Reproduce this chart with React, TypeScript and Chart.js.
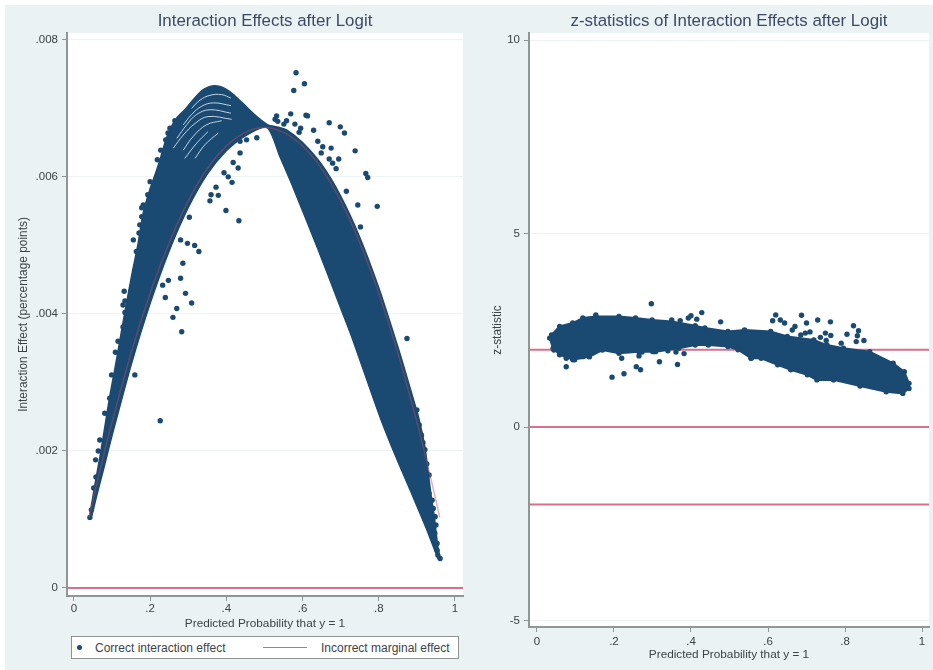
import React, { useEffect, useRef } from "react";
import { Chart, registerables } from "chart.js";

Chart.register(...registerables);

const NAVY = "#1a4a72";
const FONT = "'Liberation Sans', Arial, sans-serif";
const TEXT = "#3d4347";
const AXIS = "#8f9696";

// Left panel ---------------------------------------------------------------
const leftXTicks = [0, 0.2, 0.4, 0.6, 0.8, 1];
const leftXLabels = ["0", ".2", ".4", ".6", ".8", "1"];
const leftYTicks = [0, 0.002, 0.004, 0.006, 0.008];
const leftYLabels = ["0", ".002", ".004", ".006", ".008"];

const marginalP = [0.04, 0.06, 0.08, 0.1, 0.15, 0.2, 0.25, 0.3, 0.35, 0.4, 0.45, 0.5, 0.55, 0.6, 0.65, 0.7, 0.75, 0.8, 0.85, 0.9, 0.92, 0.94, 0.96];
const marginalY = [0.00103, 0.00152, 0.00198, 0.00242, 0.00343, 0.0043, 0.00504, 0.00565, 0.00612, 0.00645, 0.00665, 0.00672, 0.00665, 0.00645, 0.00612, 0.00565, 0.00504, 0.0043, 0.00343, 0.00242, 0.00198, 0.00152, 0.00103];

// outline of the solid mass of overlapping points
const massP = [0.042, 0.055, 0.068, 0.081, 0.094, 0.108, 0.121, 0.134, 0.152, 0.168, 0.181, 0.199, 0.213, 0.226, 0.239, 0.252, 0.27, 0.291, 0.312, 0.336, 0.352, 0.367, 0.383, 0.399, 0.417, 0.444, 0.48, 0.509,
  0.533, 0.56, 0.6, 0.65, 0.7, 0.75, 0.8, 0.85, 0.87, 0.89, 0.905, 0.921, 0.929, 0.937, 0.945, 0.955, 0.961,
  0.955, 0.924, 0.89, 0.843, 0.803, 0.732, 0.706, 0.638, 0.575, 0.541, 0.507,
  0.45, 0.4, 0.35, 0.3, 0.25, 0.2, 0.15, 0.1, 0.08, 0.06, 0.047];
const massY = [0.00107, 0.0015, 0.0019, 0.00234, 0.00279, 0.00321, 0.00362, 0.00403, 0.00457, 0.00501, 0.00545, 0.00581, 0.00603, 0.00625, 0.0065, 0.00669, 0.00686, 0.00698, 0.00712, 0.00726, 0.00731, 0.00733, 0.00732, 0.00728, 0.00721, 0.00707, 0.00688, 0.00676,
  0.00673, 0.00668, 0.0065, 0.00618, 0.00572, 0.00512, 0.00438, 0.00352, 0.00315, 0.00277, 0.00248, 0.00206, 0.00172, 0.00136, 0.00107, 0.0006, 0.00041,
  0.00044, 0.00088, 0.00133, 0.00194, 0.0025, 0.00362, 0.004, 0.00498, 0.00585, 0.00629, 0.00672,
  0.0066, 0.00638, 0.00604, 0.00555, 0.00492, 0.00415, 0.00325, 0.00222, 0.00178, 0.00135, 0.00105];

// thin pale gaps between the curved families of points
const gapA: [number, number][] = [[0.309, 0.007], [0.331, 0.00712], [0.357, 0.00719], [0.388, 0.0072], [0.412, 0.00715]];
const gapB: [number, number][] = [[0.287, 0.00676], [0.309, 0.00691], [0.335, 0.00703], [0.366, 0.00708], [0.412, 0.00704]];
const gapC: [number, number][] = [[0.27, 0.00656], [0.296, 0.00676], [0.322, 0.00691], [0.357, 0.00698], [0.412, 0.00693]];
const gapD: [number, number][] = [[0.261, 0.00642], [0.287, 0.00661], [0.318, 0.00678], [0.352, 0.00688], [0.414, 0.00684]];
const gapE: [number, number][] = [[0.287, 0.00639], [0.313, 0.00659], [0.348, 0.00676], [0.388, 0.00682]];
const gapF: [number, number][] = [[0.291, 0.00627], [0.322, 0.00649], [0.352, 0.00666]];
const gapG: [number, number][] = [[0.318, 0.00627], [0.344, 0.00647], [0.379, 0.00664]];
const leftGaps = [gapA, gapB, gapC, gapD, gapE, gapF, gapG];

const leftPointsP = [0.583, 0.605, 0.577, 0.532, 0.528, 0.535, 0.569, 0.609, 0.613, 0.558, 0.551, 0.58, 0.595, 0.591, 0.629, 0.67, 0.699, 0.71, 0.64, 0.653, 0.675, 0.649, 0.738, 0.67, 0.695, 0.679, 0.688, 0.766, 0.771, 0.715, 0.745, 0.796, 0.752, 0.874,
  0.436, 0.418, 0.431, 0.394, 0.405, 0.415, 0.373, 0.36, 0.379, 0.357, 0.399, 0.433, 0.48, 0.453, 0.436,
  0.28, 0.298, 0.317, 0.328, 0.286, 0.248, 0.28, 0.233, 0.24, 0.293, 0.309, 0.27, 0.26, 0.283, 0.303, 0.16, 0.2266,
  0.2, 0.217, 0.156, 0.132, 0.149, 0.134, 0.129, 0.143, 0.134, 0.182, 0.178, 0.173, 0.164, 0.16, 0.116, 0.109,
  0.265, 0.287, 0.252, 0.274, 0.247, 0.241, 0.259, 0.228, 0.236, 0.219, 0.226,
  0.099, 0.094, 0.081, 0.068, 0.064, 0.057, 0.058, 0.052, 0.046, 0.042,
  0.906, 0.912, 0.921, 0.926, 0.932, 0.932, 0.943, 0.95, 0.953, 0.961,
  0.129, 0.171, 0.178, 0.194, 0.207, 0.94, 0.948, 0.947, 0.953, 0.955, 0.9, 0.916];
const leftPointsY = [0.00752, 0.00736, 0.00726, 0.00689, 0.00684, 0.00681, 0.00692, 0.0069, 0.00689, 0.00682, 0.00677, 0.00677, 0.00671, 0.00665, 0.00668, 0.00679, 0.00673, 0.00664, 0.00652, 0.00644, 0.00642, 0.00635, 0.00638, 0.00626, 0.00626, 0.0062, 0.00612, 0.00605, 0.00599, 0.00579, 0.00559, 0.00557, 0.00527, 0.00364,
  0.00635, 0.00621, 0.00613, 0.00606, 0.006, 0.00592, 0.00585, 0.00574, 0.00573, 0.00565, 0.00551, 0.00536, 0.00657, 0.00654, 0.00652,
  0.00508, 0.00503, 0.005, 0.00491, 0.00474, 0.00449, 0.00452, 0.00442, 0.00424, 0.0043, 0.00416, 0.00408, 0.00395, 0.00374, 0.00541, 0.00311, 0.00244,
  0.00593, 0.00598, 0.00508, 0.00433, 0.00433, 0.00419, 0.00413, 0.00413, 0.00402, 0.00559, 0.00542, 0.0053, 0.00491, 0.00459, 0.0036, 0.00344,
  0.00682, 0.00685, 0.00671, 0.00673, 0.00664, 0.00654, 0.00657, 0.00639, 0.00631, 0.00625, 0.0061,
  0.00311, 0.00277, 0.00255, 0.00216, 0.002, 0.00187, 0.00162, 0.00146, 0.00114, 0.00103,
  0.00238, 0.00223, 0.00202, 0.00181, 0.00165, 0.00138, 0.00116, 0.00092, 0.00065, 0.00043,
  0.00381, 0.00518, 0.00555, 0.00574, 0.00581, 0.00128, 0.00104, 0.0008, 0.00055, 0.00048, 0.0026, 0.00212];

// Right panel --------------------------------------------------------------
const rightXTicks = [0, 0.2, 0.4, 0.6, 0.8, 1];
const rightXLabels = ["0", ".2", ".4", ".6", ".8", "1"];
const rightYTicks = [-5, 0, 5, 10];
const rightYLabels = ["-5", "0", "5", "10"];
const referenceLevels = [2, 0, -2];

const zMassP = [0.038, 0.059, 0.093, 0.119, 0.153, 0.213, 0.256, 0.299, 0.35, 0.411, 0.436, 0.496, 0.539, 0.607, 0.65, 0.719, 0.753, 0.796, 0.864, 0.925, 0.954, 0.966, 0.966, 0.95, 0.907, 0.839, 0.77, 0.727, 0.702, 0.659, 0.625, 0.582, 0.556, 0.522, 0.496, 0.445, 0.411, 0.368, 0.308, 0.265, 0.213, 0.17, 0.136, 0.093, 0.059, 0.042, 0.033];
const zMassY = [2.38, 2.6, 2.69, 2.82, 2.86, 2.86, 2.82, 2.77, 2.73, 2.62, 2.56, 2.47, 2.51, 2.47, 2.34, 2.25, 2.12, 2.04, 1.95, 1.65, 1.43, 1.13, 1.0, 0.87, 0.91, 1.06, 1.22, 1.22, 1.35, 1.48, 1.61, 1.78, 1.78, 2.0, 2.08, 2.12, 2.12, 2.04, 1.95, 1.95, 1.91, 1.99, 1.82, 1.74, 1.87, 2.04, 2.3];

const zPointsP = [0.297, 0.153, 0.428, 0.4, 0.393, 0.415, 0.35, 0.372, 0.477, 0.076, 0.076, 0.059, 0.044, 0.098, 0.119, 0.136, 0.22, 0.195, 0.226, 0.258, 0.269, 0.265, 0.273, 0.316, 0.301, 0.34, 0.361, 0.382, 0.318, 0.365,
  0.62, 0.612, 0.632, 0.643, 0.687, 0.7, 0.729, 0.762, 0.67, 0.663, 0.822, 0.835, 0.805, 0.832, 0.849, 0.829, 0.79, 0.709, 0.697, 0.685, 0.749, 0.763, 0.736, 0.751, 0.556];
const zPointsY = [3.19, 2.9, 2.96, 2.88, 2.82, 2.79, 2.77, 2.75, 2.72, 1.56, 1.78, 1.88, 1.99, 1.74, 1.82, 1.82, 1.78, 1.29, 1.38, 1.56, 1.48, 1.84, 1.94, 2.04, 1.95, 1.97, 1.94, 1.9, 1.69, 1.62,
  2.9, 2.75, 2.77, 2.69, 2.89, 2.69, 2.77, 2.72, 2.6, 2.51, 2.62, 2.49, 2.4, 2.36, 2.24, 2.21, 2.17, 2.46, 2.43, 2.38, 2.43, 2.37, 2.32, 2.24, 1.78];

const zip = (xs: number[], ys: number[]) => xs.map((x, i) => ({ x, y: ys[i] }));

const plotBackground = {
  id: "plotBackground",
  beforeDraw(chart: any) {
    const { ctx, chartArea: a } = chart;
    ctx.save();
    ctx.fillStyle = "#ffffff";
    ctx.fillRect(a.left, a.top, a.right - a.left, a.bottom - a.top);
    ctx.restore();
  },
};

function axes(o: any) {
  const tickFont = { family: FONT, size: 11.5 };
  return {
    x: {
      type: "linear",
      min: o.xMin,
      max: o.xMax,
      afterBuildTicks: (s: any) => { s.ticks = o.xTicks.map((value: number) => ({ value })); },
      afterFit: (s: any) => { s.height = o.xHeight; },
      ticks: { color: TEXT, font: tickFont, padding: o.xTickPad, maxRotation: 0, autoSkip: false, callback: (_: any, i: number) => o.xLabels[i] },
      grid: { drawOnChartArea: false, drawTicks: true, tickLength: 5, tickColor: AXIS, tickWidth: 1 },
      border: { color: AXIS, width: 2 },
      title: { display: true, text: "Predicted Probability that y = 1", color: TEXT, font: { family: FONT, size: 11.8 }, padding: 0 },
    },
    y: {
      type: "linear",
      min: o.yMin,
      max: o.yMax,
      afterBuildTicks: (s: any) => { s.ticks = o.yTicks.map((value: number) => ({ value })); },
      afterFit: (s: any) => { s.width = o.yWidth; },
      ticks: { color: TEXT, font: tickFont, padding: 4, autoSkip: false, callback: (_: any, i: number) => o.yLabels[i] },
      grid: { color: "#eef3f4", lineWidth: 1, tickLength: 5, tickColor: AXIS, tickWidth: 1 },
      border: { color: AXIS, width: 2 },
      title: { display: true, text: o.yTitle, color: TEXT, font: { family: FONT, size: 11.9 }, padding: { top: o.yTitlePad, bottom: 0 } },
    },
  };
}

function baseOptions(title: string, scales: any, padding: any) {
  return {
    responsive: false,
    animation: false as const,
    layout: { padding },
    scales,
    plugins: {
      legend: { display: false },
      tooltip: { enabled: false },
      title: {
        display: true,
        text: title,
        fullSize: false,
        color: "#3c4a66",
        font: { family: FONT, size: 16.9, weight: "normal" as const, lineHeight: 1.2 },
        padding: { top: 6, bottom: 1.7 },
      },
    },
  };
}

export default function App() {
  const leftRef = useRef<HTMLCanvasElement>(null);
  const rightRef = useRef<HTMLCanvasElement>(null);

  useEffect(() => {
    document.body.style.margin = "0";
    const xMinL = -0.018, xMaxL = 1.021;
    const left = new Chart(leftRef.current as HTMLCanvasElement, {
      type: "scatter",
      plugins: [plotBackground],
      data: {
        datasets: [
          { label: "Zero", data: [{ x: xMinL, y: 0 }, { x: xMaxL, y: 0 }], showLine: true, borderColor: "#d9708a", borderWidth: 2, pointRadius: 0, order: 1 },
          { label: "Incorrect marginal effect", data: zip(marginalP, marginalY), showLine: true, borderColor: "rgba(190,70,90,0.45)", borderWidth: 1.4, pointRadius: 0, tension: 0.3, order: 0 },
          ...leftGaps.map((g, i) => ({ label: "gap" + i, data: g.map(([x, y]) => ({ x, y })), showLine: true, borderColor: "rgba(222,234,242,0.85)", borderWidth: 1, pointRadius: 0, tension: 0.4, order: 2 })),
          { label: "Correct interaction effect", data: zip(leftPointsP, leftPointsY), backgroundColor: NAVY, borderColor: NAVY, pointRadius: 2.7, pointBorderWidth: 0, order: 3 },
          { label: "mass", data: zip(massP, massY), showLine: true, fill: "shape", backgroundColor: NAVY, borderColor: NAVY, borderWidth: 1.5, pointRadius: 0, tension: 0.25, order: 4 },
        ],
      } as any,
      options: baseOptions(
        "Interaction Effects after Logit",
        axes({ xMin: xMinL, xMax: xMaxL, yMin: -0.000117, yMax: 0.0081, xTicks: leftXTicks, xLabels: leftXLabels, yTicks: leftYTicks, yLabels: leftYLabels, xHeight: 35, yWidth: 67, xTickPad: 1, yTitle: "Interaction Effect (percentage points)", yTitlePad: 17 }),
        { left: 0, right: 17, top: 5, bottom: 39 },
      ) as any,
    });

    const xMinR = -0.0206, xMaxR = 1.018;
    const right = new Chart(rightRef.current as HTMLCanvasElement, {
      type: "scatter",
      plugins: [plotBackground],
      data: {
        datasets: [
          ...referenceLevels.map((lvl) => ({ label: "ref" + lvl, data: [{ x: xMinR, y: lvl }, { x: xMaxR, y: lvl }], showLine: true, borderColor: "#d9708a", borderWidth: 2, pointRadius: 0, order: 3 })),
          { label: "z", data: zip(zPointsP, zPointsY), backgroundColor: NAVY, borderColor: NAVY, pointRadius: 2.7, pointBorderWidth: 0, order: 1 },
          { label: "zmass", data: zip(zMassP, zMassY), showLine: true, fill: "shape", backgroundColor: NAVY, borderColor: NAVY, borderWidth: 2, pointRadius: 2.7, pointBorderWidth: 0, pointBackgroundColor: NAVY, tension: 0, order: 2 },
        ],
      } as any,
      options: baseOptions(
        "z-statistics of Interaction Effects after Logit",
        axes({ xMin: xMinR, xMax: xMaxR, yMin: -5.17, yMax: 10.19, xTicks: rightXTicks, xLabels: rightXLabels, yTicks: rightYTicks, yLabels: rightYLabels, xHeight: 35, yWidth: 49, xTickPad: 3, yTitle: "z-statistic", yTitlePad: 11 }),
        { left: 0, right: 0, top: 5, bottom: 8 },
      ) as any,
    });

    return () => {
      left.destroy();
      right.destroy();
    };
  }, []);

  const legendText: React.CSSProperties = { position: "absolute", top: 0, lineHeight: "22px", fontFamily: FONT, fontSize: 12, color: TEXT, whiteSpace: "nowrap" };

  return (
    <div style={{ position: "relative", width: 933, height: 670, background: "#ffffff", overflow: "hidden", filter: "blur(0.45px)" }}>
      <div style={{ position: "absolute", left: 5, top: 5, width: 928, height: 665, background: "#eaf2f3" }} />
      <canvas ref={leftRef} width={480} height={670} style={{ position: "absolute", left: 0, top: 0 }} />
      <canvas ref={rightRef} width={453} height={670} style={{ position: "absolute", left: 480, top: 0 }} />
      <div style={{ position: "absolute", left: 71, top: 636, width: 386, height: 21, background: "#fff", border: "1px solid #8d9394" }}>
        <span style={{ position: "absolute", left: 5, top: 8, width: 5, height: 5, borderRadius: "50%", background: NAVY }} />
        <span style={{ ...legendText, left: 23 }}>Correct interaction effect</span>
        <span style={{ position: "absolute", left: 191, top: 10, width: 44, height: 1.4, background: "#cf6a80" }} />
        <span style={{ ...legendText, left: 249 }}>Incorrect marginal effect</span>
      </div>
    </div>
  );
}
